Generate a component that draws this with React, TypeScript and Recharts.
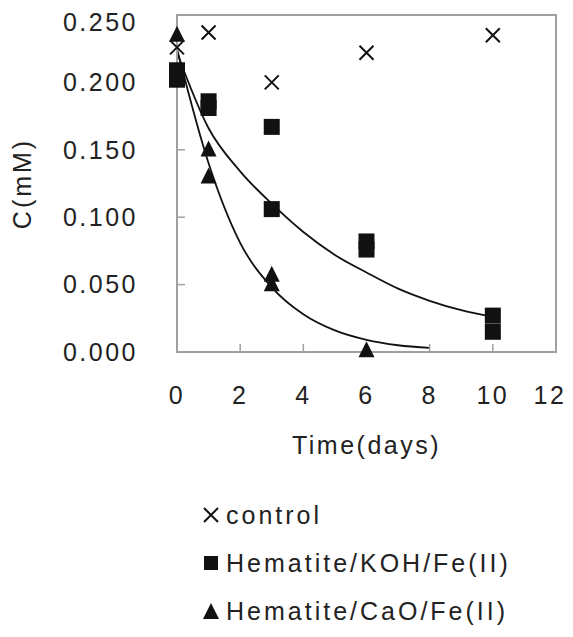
import React from 'react';
import { ComposedChart, Scatter, Line, XAxis, YAxis, Legend, ReferenceArea } from 'recharts';

// measured points
const controlDays = [0, 1, 3, 6, 10];
const controlConc = [0.226, 0.237, 0.2, 0.222, 0.235];

const kohDays = [0, 0, 1, 1, 3, 3, 6, 6, 10, 10];
const kohConc = [0.209, 0.202, 0.186, 0.181, 0.167, 0.106, 0.082, 0.076, 0.027, 0.015];

const caoDays = [0, 1, 1, 3, 3, 6];
const caoConc = [0.236, 0.151, 0.131, 0.058, 0.051, 0.002];

// fitted curves
const kohFitDays = [0, 1, 2, 3, 4, 5, 6, 7, 8, 9, 10];
const kohFitConc = [0.222, 0.166, 0.134, 0.11, 0.089, 0.072, 0.059, 0.047, 0.038, 0.031, 0.026];

const caoFitDays = [0, 1, 2, 3, 4, 5, 6, 7, 8];
const caoFitConc = [0.225, 0.14, 0.081, 0.048, 0.028, 0.016, 0.009, 0.005, 0.003];

const xTicks = [0, 2, 4, 6, 8, 10, 12];
const yTicks = [0, 0.05, 0.1, 0.15, 0.2, 0.25];

const legendNames = ['control', 'Hematite/KOH/Fe(II)', 'Hematite/CaO/Fe(II)'];

const zip = (xs: number[], ys: number[]) => xs.map((t, i) => ({ t, c: ys[i] }));

const INK = '#111';
const AXIS = '#a0a0a0';
const FONT = '"Liberation Sans", Arial, sans-serif';

const Cross = (p: any) => (
  <path
    d={`M${p.cx - 7},${p.cy - 7}L${p.cx + 7},${p.cy + 7}M${p.cx - 7},${p.cy + 7}L${p.cx + 7},${p.cy - 7}`}
    stroke={INK}
    strokeWidth={2}
    fill="none"
  />
);
const Square = (p: any) => <rect x={p.cx - 8} y={p.cy - 8} width={16} height={16} fill={INK} />;
const Triangle = (p: any) => (
  <path d={`M${p.cx},${p.cy - 8}L${p.cx + 8},${p.cy + 8}L${p.cx - 8},${p.cy + 8}Z`} fill={INK} />
);

const tickStyle = { fontSize: 25, fill: '#222', fontFamily: FONT, letterSpacing: 2.5 };

const LegendBox = () => {
  const icons = [
    <path key="x" d="M2,2L16,16M2,16L16,2" stroke={INK} strokeWidth={2} fill="none" />,
    <rect key="s" x={2} y={2} width={14} height={14} fill={INK} />,
    <path key="t" d="M9,1L17,17L1,17Z" fill={INK} />,
  ];
  return (
    <div style={{ fontFamily: FONT, fontSize: 25, letterSpacing: 3, color: '#222' }}>
      {legendNames.map((n, i) => (
        <div key={n} style={{ height: 48, display: 'flex', alignItems: 'center' }}>
          <svg width={18} height={18} style={{ marginRight: 6 }}>
            {icons[i]}
          </svg>
          <span>{n}</span>
        </div>
      ))}
    </div>
  );
};

export default function App() {
  return (
    <div>
      <style>{'body{overflow:hidden} .recharts-surface{overflow:visible}'}</style>
      <ComposedChart width={557} height={621} margin={{ top: 7, right: 9, left: 0, bottom: 0 }}>
        <XAxis
          type="number"
          dataKey="t"
          domain={[0, 12]}
          ticks={xTicks}
          height={277}
          axisLine={{ stroke: AXIS, strokeWidth: 2 }}
          tickLine={{ stroke: AXIS, strokeWidth: 1.5 }}
          tickSize={-8}
          tickMargin={42}
          tick={tickStyle}
          label={{
            value: 'Time(days)',
            position: 'insideTop',
            offset: 84,
            style: { fontSize: 25, fill: '#222', fontFamily: FONT, letterSpacing: 2.5 },
          }}
        />
        <YAxis
          type="number"
          dataKey="c"
          domain={[0, 0.25]}
          ticks={yTicks}
          width={169}
          axisLine={{ stroke: AXIS, strokeWidth: 2 }}
          tickLine={{ stroke: AXIS, strokeWidth: 1.5 }}
          tickSize={-8}
          tickMargin={47}
          tick={tickStyle}
          tickFormatter={(v: number) => v.toFixed(3)}
          label={{
            value: 'C(mM)',
            angle: -90,
            position: 'insideLeft',
            offset: 14,
            style: { fontSize: 25, fill: '#222', fontFamily: FONT, letterSpacing: 3, textAnchor: 'middle' },
          }}
        />
        <ReferenceArea x1={0} x2={12} y1={0} y2={0.25} fill="none" stroke={AXIS} strokeWidth={2} />
        <Line
          data={zip(kohFitDays, kohFitConc)}
          dataKey="c"
          type="monotone"
          stroke={INK}
          strokeWidth={1.8}
          dot={false}
          isAnimationActive={false}
          legendType="none"
        />
        <Line
          data={zip(caoFitDays, caoFitConc)}
          dataKey="c"
          type="monotone"
          stroke={INK}
          strokeWidth={1.8}
          dot={false}
          isAnimationActive={false}
          legendType="none"
        />
        <Scatter data={zip(controlDays, controlConc)} dataKey="c" shape={Cross} isAnimationActive={false} />
        <Scatter data={zip(kohDays, kohConc)} dataKey="c" shape={Square} isAnimationActive={false} />
        <Scatter data={zip(caoDays, caoConc)} dataKey="c" shape={Triangle} isAnimationActive={false} />
        <Legend
          layout="vertical"
          align="center"
          verticalAlign="middle"
          content={() => <LegendBox />}
          wrapperStyle={{ position: 'absolute', left: 194, top: 483, width: 360 }}
        />
      </ComposedChart>
    </div>
  );
}
